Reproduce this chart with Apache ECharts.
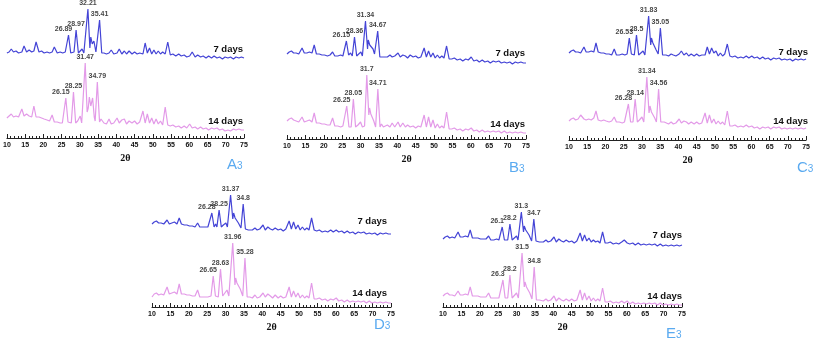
<!DOCTYPE html>
<html>
<head>
<meta charset="utf-8" />
<script src="https://cdn.jsdelivr.net/npm/echarts@6/dist/echarts.min.js"></script>
<style>
  html, body { margin: 0; padding: 0; background: #fff; }
  #chart { width: 813px; height: 344px; }
</style>
</head>
<body>
<div id="chart"></div>
<script>
// angles shared by the background part of every pattern
const bgLeftAngles = [10, 10.6, 11.2, 11.8, 12.5, 13.2, 14.1, 14.7, 15.4, 16.1, 16.8, 17.4, 18, 18.8, 19.5, 20.2, 21, 21.7, 22.4, 23, 23.8, 24.6];
const bgRightAngles = [
  36.6, 37.3, 38, 38.6, 39.3, 40.2, 40.8, 41.5, 42.2, 42.8,
  43.5, 44.3, 45, 45.7, 46.4, 47.3, 47.9, 48.5, 49.1, 49.7,
  50.3, 50.9, 51.5, 52.1, 52.7, 53.4, 54.1, 54.8, 55.5, 56.3,
  57.1, 57.8, 58.6, 59.3, 60.1, 60.8, 61.6, 62.3, 63.1, 63.8,
  64.6, 65.3, 66.1, 66.8, 67.6, 68.3, 69.1, 69.8, 70.6, 71.3,
  72.1, 72.8, 73.6, 74.3, 75
];
const xTicks = [10, 15, 20, 25, 30, 35, 40, 45, 50, 55, 60, 65, 70, 75];

// ---- A3 ----
const a7Left = [85, 86, 89, 86, 87, 85, 86, 92, 86, 88, 86, 87, 96, 86, 87, 85, 86, 85, 86, 91, 85, 86];
const a7Main = [[25.3,85],[26.0,86],[26.3,86],[27.5,85],[28.0,87],[28.4,86],[29.6,85],[30.0,86],[30.6,89],[31.1,85],[31.6,87],[32.75,90],[33.0,101],[33.4,94],[33.85,97],[34.4,86],[34.8,86],[36.0,85],[36.3,86]];
const a7Peaks = [26.89, 28.97, 32.21, 35.41];
const a7PeakH = [103, 108, 129, 118];
const a7Right = [85,84,85,88,84, 85,89,84,87,84, 87,84,86,84,85, 84,95,85,90,84, 88,84,87,84,86, 84,96,83,84,82, 84,82,83,81,82, 86,81,83,81,82, 80,82,80,82,80, 81,79,81,80,81, 79,81,80,81,80];

const a14Left = [20, 22, 24, 21, 22, 21, 29, 22, 24, 22, 21, 32, 21, 21, 20, 19, 18, 17, 23, 16, 16, 15];
const a14Main = [[25.2,15],[25.55,16],[26.75,16],[27.2,18],[27.65,15],[28.85,15],[29.4,17],[30.1,22],[30.5,15],[30.9,17],[32.0,26],[32.3,30],[32.6,41],[33.0,32],[33.5,40],[33.95,21],[34.2,17],[35.4,16],[35.8,19]];
const a14Peaks = [26.15, 28.25, 31.47, 34.79];
const a14PeakH = [40, 46, 75, 56];
const a14Right = [15,14,19,14,15, 20,15,18,19,14, 17,15,17,14,16, 27,15,24,15,20, 14,19,14,17,13, 31,13,12,13,11, 12,10,12,10,14, 10,11,9,11,9, 10,8,10,9,10, 8,9,7,8,7, 9,8,9,8,8];

// ---- B3 ----
const b7Left = [85, 87, 88, 86, 86, 85, 91, 86, 86, 87, 86, 94, 85, 85, 84, 84, 83, 84, 87, 83, 83, 84];
const b7Main = [[25.2,83],[25.55,84],[26.75,84],[27.3,86],[27.75,83],[28.95,83],[29.5,85],[30.1,87],[30.5,83],[30.75,85],[31.9,90],[32.1,99],[32.5,94],[32.9,96],[33.4,90],[33.8,85],[34.1,83],[35.25,82],[35.7,84],[36.2,82]];
const b7Peaks = [26.15, 28.36, 31.34, 34.67];
const b7PeakH = [98, 102, 118, 108];
const b7Right = [83,82,84,82,83, 86,82,84,83,81, 84,82,83,81,82, 91,82,88,82,86, 81,84,81,83,81, 93,80,80,81,79, 80,78,80,79,82, 78,79,77,79,77, 78,76,78,77,78, 76,77,76,77,75, 77,76,77,76,76];

const b14Left = [18, 20, 21, 19, 18, 17, 22, 17, 18, 19, 17, 26, 16, 16, 15, 15, 14, 14, 21, 13, 13, 12];
const b14Main = [[25.2,13],[25.65,12],[26.85,12],[27.2,14],[27.45,12],[28.65,12],[29.3,14],[30.0,17],[30.5,12],[31.1,13],[32.25,24],[32.45,31],[32.8,25],[33.1,27],[33.6,18],[34.1,12],[35.3,12],[35.7,15],[36.2,12]];
const b14Peaks = [26.25, 28.05, 31.7, 34.71];
const b14PeakH = [33, 40, 64, 50];
const b14Right = [12,14,12,16,12, 17,12,16,12,14, 12,13,11,13,12, 24,12,22,12,19, 11,15,11,13,11, 27,10,10,11,9, 10,8,10,9,11, 8,9,7,9,7, 8,7,8,7,8, 6,8,6,7,6, 7,6,7,6,6];

// ---- C3 ----
const c7Left = [87, 89, 90, 88, 88, 87, 93, 88, 88, 89, 88, 97, 88, 87, 87, 86, 86, 85, 91, 85, 85, 86];
const c7Main = [[25.3,85],[25.93,86],[27.1,86],[27.5,88],[27.9,85],[29.1,85],[29.6,86],[30.3,89],[30.8,85],[31.2,86],[32.4,95],[32.6,102],[33.0,97],[33.4,99],[33.9,90],[34.45,86],[35.65,85],[36.1,87]];
const c7Peaks = [26.53, 28.5, 31.83, 35.05];
const c7PeakH = [102, 105, 124, 112];
const c7Right = [85,84,86,85,84, 86,89,85,87,84, 86,84,86,84,85, 85,93,86,92,87, 89,84,87,84,86, 96,84,83,84,82, 83,82,84,82,84, 82,83,81,83,81, 82,80,82,81,82, 80,81,80,81,79, 81,80,81,80,81];

const c14Left = [19, 21, 22, 20, 21, 25, 21, 20, 21, 20, 22, 29, 20, 19, 20, 19, 18, 19, 23, 18, 18, 17];
const c14Main = [[25.2,18],[25.68,18],[26.88,18],[27.2,20],[27.54,18],[28.74,18],[29.3,20],[30.0,23],[30.5,18],[30.74,19],[31.94,27],[32.2,34],[32.6,28],[32.95,30],[33.5,22],[33.96,18],[35.16,18],[35.6,20],[36.1,18]];
const c14Peaks = [26.28, 28.14, 31.34, 34.56];
const c14PeakH = [36, 41, 63, 51];
const c14Right = [17,16,18,16,17, 21,17,19,18,16, 18,16,18,16,17, 27,17,25,17,21, 16,19,16,18,15, 29,14,14,15,13, 14,13,15,13,14, 12,13,11,13,12, 13,11,13,12,13, 11,12,11,12,11, 12,11,12,11,12];

// ---- D3 ----
const d7Left = [83, 85, 86, 84, 84, 83, 87, 83, 84, 85, 83, 89, 83, 82, 82, 81, 81, 80, 84, 80, 80, 80];
const d7Main = [[25.2,80],[25.68,81],[26.88,80],[27.3,83],[27.65,80],[28.85,80],[29.4,82],[30.1,84],[30.5,80],[30.77,81],[31.97,88],[32.2,94],[32.6,89],[33.0,90],[33.5,84],[34.2,79],[35.4,78],[35.8,80],[36.2,77]];
const d7Peaks = [26.28, 28.25, 31.37, 34.8];
const d7PeakH = [94, 97, 112, 103];
const d7Right = [78,77,79,77,78, 82,77,80,78,77, 79,77,78,76,78, 86,78,85,78,82, 77,80,77,79,77, 89,77,76,77,75, 76,75,77,75,77, 75,76,74,76,74, 75,73,75,74,75, 73,74,73,74,72, 74,73,74,73,73];

const d14Left = [10, 13, 14, 12, 13, 12, 20, 13, 14, 15, 13, 23, 13, 13, 12, 12, 11, 11, 17, 10, 10, 10];
const d14Main = [[25.2,10],[26.05,11],[27.25,11],[27.6,13],[28.03,10],[29.23,11],[29.7,13],[30.4,17],[30.9,11],[31.36,12],[32.56,22],[32.75,29],[33.1,24],[33.5,25],[34.0,18],[34.68,11],[35.88,10],[36.2,12]];
const d14Peaks = [26.65, 28.63, 31.96, 35.28];
const d14PeakH = [31, 38, 64, 49];
const d14Right = [10,9,12,9,10, 14,10,13,11,9, 12,9,11,9,10, 20,10,16,10,14, 9,12,9,11,9, 24,8,8,9,7, 8,6,8,7,9, 6,7,5,7,5, 6,5,6,5,6, 4,6,4,5,4, 5,4,5,4,4];

// ---- E3 ----
const e7Left = [68, 70, 71, 69, 70, 69, 75, 70, 70, 71, 70, 77, 69, 69, 69, 68, 68, 68, 71, 67, 67, 68];
const e7Main = [[25.2,67],[25.5,68],[26.7,67],[27.1,69],[27.6,67],[28.8,67],[29.3,69],[30.0,71],[30.4,67],[30.7,68],[31.9,75],[32.1,81],[32.5,77],[32.9,79],[33.4,72],[34.1,66],[35.3,66],[35.7,68],[36.2,65]];
const e7Peaks = [26.1, 28.2, 31.3, 34.7];
const e7PeakH = [80, 83, 95, 88];
const e7Right = [66,65,67,65,66, 70,65,68,66,65, 67,65,66,64,66, 74,66,72,66,69, 65,67,65,66,64, 75,64,64,65,63, 64,63,65,67,64, 63,64,62,64,62, 63,62,63,62,63, 61,63,61,62,61, 62,61,62,61,62];

const e14Left = [11, 13, 14, 12, 12, 11, 16, 12, 12, 13, 12, 20, 11, 11, 11, 10, 10, 10, 14, 9, 9, 9];
const e14Main = [[25.2,9],[25.7,9],[26.9,9],[27.3,11],[27.6,9],[28.8,9],[29.3,11],[30.0,14],[30.5,9],[30.9,10],[32.1,20],[32.3,25],[32.7,20],[33.1,22],[33.6,14],[34.2,8],[35.4,7],[35.8,9],[36.2,7]];
const e14Peaks = [26.3, 28.2, 31.5, 34.8];
const e14PeakH = [27, 32, 54, 40];
const e14Right = [7,6,8,6,7, 11,6,9,7,6, 8,6,8,6,7, 17,7,14,7,11, 6,9,6,8,6, 19,5,5,6,4, 5,4,6,4,6, 3,5,3,4,3, 4,3,4,3,4, 2,4,2,3,2, 3,2,3,2,2];

const blue = "#4444d6";
const pink = "#e39ae8";
const panelColor = "#5aaaf0";

// grid boxes in px: left, top, width (height is always 135)
const panels = [
  { name: "A", left: 4, top: 3, width: 240 },
  { name: "B", left: 287, top: 4, width: 239 },
  { name: "C", left: 569, top: 5, width: 239 },
  { name: "D", left: 152, top: 172, width: 239 },
  { name: "E", left: 443, top: 172, width: 239 },
];

const traces = [
  [a7Left, a7Main, a7Peaks, a7PeakH, a7Right, a14Left, a14Main, a14Peaks, a14PeakH, a14Right],
  [b7Left, b7Main, b7Peaks, b7PeakH, b7Right, b14Left, b14Main, b14Peaks, b14PeakH, b14Right],
  [c7Left, c7Main, c7Peaks, c7PeakH, c7Right, c14Left, c14Main, c14Peaks, c14PeakH, c14Right],
  [d7Left, d7Main, d7Peaks, d7PeakH, d7Right, d14Left, d14Main, d14Peaks, d14PeakH, d14Right],
  [e7Left, e7Main, e7Peaks, e7PeakH, e7Right, e14Left, e14Main, e14Peaks, e14PeakH, e14Right],
];

function buildTrace(left, main, peaks, peakH, right) {
  const pts = [];
  bgLeftAngles.forEach((a, i) => pts.push([a, left[i]]));
  main.forEach((p) => pts.push(p));
  peaks.forEach((a, i) => pts.push([a, peakH[i]]));
  bgRightAngles.forEach((a, i) => pts.push([a, right[i]]));
  pts.sort((p, q) => p[0] - q[0]);
  return pts;
}

function peakLabels(peaks, peakH) {
  return peaks.map((a, i) => ({
    value: [a, peakH[i]],
    label: { offset: i === 0 ? [-5, 0] : [0, 0] },
  }));
}

const grid = [], xAxis = [], yAxis = [], series = [];
panels.forEach((p, k) => {
  grid.push({ left: p.left, top: p.top, width: p.width, height: 135 });
  xAxis.push({
    gridIndex: k,
    type: "value",
    min: 10,
    max: 75,
    interval: 5,
    name: "2θ",
    nameLocation: "middle",
    nameGap: 15,
    nameTextStyle: { fontFamily: "Liberation Serif", fontWeight: "bold", fontSize: 10, color: "#111" },
    axisLine: { lineStyle: { color: "#222", width: 1 } },
    axisTick: { inside: true, length: 4, lineStyle: { color: "#222" } },
    minorTick: { show: true, splitNumber: 5, length: 2, lineStyle: { color: "#222" } },
    splitLine: { show: false },
    axisLabel: {
      margin: 4,
      fontSize: 7,
      fontWeight: "bold",
      color: "#111",
      fontFamily: "Liberation Sans",
      formatter: (v) => (xTicks.includes(v) ? String(v) : ""),
    },
  });
  yAxis.push({ gridIndex: k, type: "value", min: 0, max: 135, show: false });

  const t = traces[k];
  [[0, blue], [5, pink]].forEach(([o, color]) => {
    series.push({
      type: "line",
      xAxisIndex: k,
      yAxisIndex: k,
      data: buildTrace(t[o], t[o + 1], t[o + 2], t[o + 3], t[o + 4]),
      showSymbol: false,
      lineStyle: { color: color, width: 1.2 },
      silent: true,
    });
    // peak labels
    series.push({
      type: "scatter",
      xAxisIndex: k,
      yAxisIndex: k,
      data: peakLabels(t[o + 2], t[o + 3]),
      symbolSize: 1,
      itemStyle: { color: "rgba(0,0,0,0)" },
      label: {
        show: true,
        position: "top",
        distance: 2,
        fontSize: 7,
        fontWeight: "bold",
        fontFamily: "Liberation Sans",
        color: "#111",
        formatter: (d) => String(d.value[0]),
      },
      silent: true,
    });
  });
});

// "7 days" / "14 days" captions, right aligned: [x, y7, y14]
const dayPos = [[243, 49, 121], [525, 53, 124], [808, 52, 121], [387, 221, 293], [682, 235, 296]];
// panel letters: [x, y]
const letterPos = [[227, 157], [509, 160], [797, 160], [374, 317], [666, 326]];

const graphic = [];
dayPos.forEach(([x, y7, y14]) => {
  [[y7, "7 days"], [y14, "14 days"]].forEach(([y, txt]) => {
    graphic.push({
      type: "text",
      x: x,
      y: y,
      style: {
        text: txt,
        align: "right",
        verticalAlign: "middle",
        fontSize: 9.5,
        fontWeight: "bold",
        fontFamily: "Liberation Sans",
        fill: "#111",
      },
    });
  });
});
letterPos.forEach(([x, y], k) => {
  graphic.push({
    type: "text",
    x: x,
    y: y,
    style: {
      text: "{a|" + panels[k].name + "}{n|3}",
      rich: {
        a: { fontSize: 15, fill: panelColor, fontFamily: "Liberation Sans", verticalAlign: "bottom" },
        n: { fontSize: 10, fill: panelColor, fontFamily: "Liberation Sans", verticalAlign: "bottom", padding: [0, 0, 1, 0] },
      },
    },
  });
});

const chart = echarts.init(document.getElementById("chart"), null, { renderer: "canvas" });
chart.setOption({
  animation: false,
  backgroundColor: "#fff",
  grid: grid,
  xAxis: xAxis,
  yAxis: yAxis,
  series: series,
  graphic: graphic,
});
</script>
</body>
</html>
